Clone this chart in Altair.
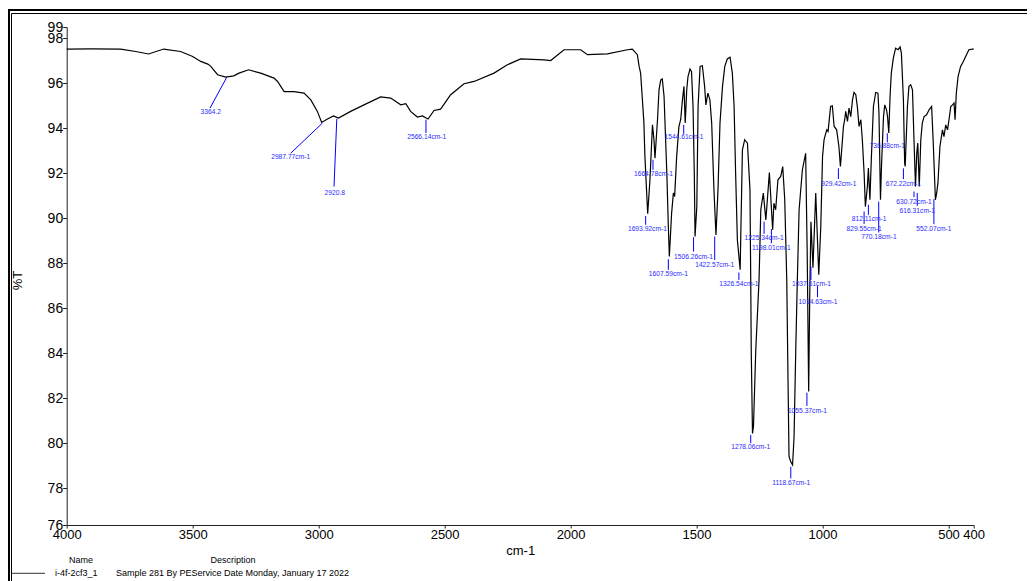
import altair as alt
import pandas as pd

# ---------------- spectrum (wavenumber cm-1, %T) ----------------
WN = [4000, 3905, 3786, 3726, 3675, 3615, 3548, 3500, 3468, 3440, 3428, 3401, 3369, 3337,
      3316, 3278, 3230, 3177, 3163, 3137, 3098, 3058, 3031, 3005, 2988, 2965, 2941, 2921,
      2873, 2820, 2754, 2714, 2674, 2654, 2635, 2608, 2588, 2566, 2542, 2516, 2476, 2423,
      2383, 2304, 2251, 2198, 2105, 2079, 2026, 1960, 1933, 1854, 1774, 1755, 1735, 1728,
      1722, 1715, 1709, 1705, 1694, 1685, 1675, 1669, 1665, 1655, 1649, 1642, 1636, 1629,
      1618, 1612, 1608, 1599, 1592, 1587, 1579, 1570, 1563, 1556, 1550, 1545, 1539, 1534,
      1526, 1520, 1514, 1509, 1506, 1499, 1494, 1486, 1477, 1468, 1463, 1455, 1447, 1440,
      1431, 1423, 1415, 1407, 1397, 1388, 1378, 1367, 1358, 1351, 1345, 1338, 1327, 1318,
      1309, 1298, 1288, 1285, 1283, 1278, 1274, 1265, 1252, 1245, 1235, 1225, 1211, 1198,
      1193, 1186, 1177, 1166, 1158, 1150, 1142, 1137, 1133, 1126, 1119, 1113, 1106, 1100,
      1093, 1080, 1067, 1061, 1055, 1051, 1046, 1038, 1027, 1015, 1007, 1000, 994, 987,
      983, 978, 968, 961, 954, 944, 935, 929, 924, 917, 912, 908, 901, 895,
      888, 881, 875, 868, 862, 855, 848, 842, 835, 830, 822, 818, 812, 806,
      798, 789, 780, 776, 770, 766, 758, 753, 746, 742, 737, 732, 727, 719,
      710, 700, 692, 687, 679, 674, 672, 663, 657, 650, 643, 637, 631, 626,
      622, 616, 610, 604, 597, 587, 577, 567, 561, 552, 547, 542, 534, 524,
      518, 511, 504, 498, 491, 484, 478, 474, 469, 462, 452, 441, 432, 419,
      405, 400]
PCT_T = [97.52, 97.53, 97.52, 97.41, 97.30, 97.52, 97.41, 97.19, 96.97, 96.85, 96.75, 96.38, 96.27, 96.33,
         96.45, 96.60, 96.45, 96.23, 96.08, 95.63, 95.63, 95.56, 95.26, 94.75, 94.26, 94.41, 94.55, 94.45,
         94.75, 95.04, 95.39, 95.34, 95.04, 95.09, 94.75, 94.50, 94.55, 94.41, 94.79, 94.85, 95.49, 95.98,
         96.08, 96.45, 96.82, 97.08, 97.04, 97.01, 97.49, 97.49, 97.27, 97.31, 97.49, 97.52, 97.27, 96.75,
         96.45, 95.27, 94.24, 92.74, 90.20, 91.71, 94.15, 93.49, 92.67, 94.38, 95.71, 96.15, 96.19, 95.41,
         92.01, 89.63, 88.30, 90.23, 91.12, 90.97, 92.74, 94.08, 94.38, 95.27, 95.86, 94.23, 95.71, 96.30,
         96.63, 96.52, 94.97, 92.01, 89.19, 90.52, 94.97, 96.75, 96.78, 95.86, 95.04, 95.56, 95.26, 94.23,
         91.26, 89.26, 91.26, 94.23, 95.86, 96.75, 97.08, 97.16, 96.45, 94.97, 92.01, 89.04, 87.71, 93.04,
         93.49, 93.34, 91.26, 87.26, 84.15, 80.44, 80.77, 84.15, 87.26, 90.38, 91.12, 89.93, 92.03, 89.49,
         90.67, 90.38, 91.71, 91.86, 92.30, 90.82, 87.26, 82.82, 79.41, 79.18, 79.04, 80.29, 84.30, 87.26,
         90.38, 92.15, 92.89, 88.60, 82.30, 86.37, 89.84, 87.80, 91.12, 87.49, 89.63, 92.74, 93.49, 93.78,
         93.93, 93.86, 94.97, 95.00, 94.08, 93.93, 93.19, 92.30, 93.04, 94.08, 94.38, 94.75, 94.30, 94.90,
         94.52, 95.27, 95.59, 95.49, 94.97, 94.08, 94.38, 93.49, 92.01, 90.52, 91.41, 92.23, 90.82, 92.74,
         94.97, 95.59, 95.56, 94.67, 90.82, 92.30, 94.52, 95.04, 94.82, 94.52, 93.79, 95.41, 96.45, 97.12,
         97.56, 97.49, 97.61, 97.34, 95.27, 92.45, 92.30, 94.97, 95.86, 95.93, 95.71, 93.49, 91.41, 92.89,
         93.34, 91.41, 93.49, 94.23, 94.52, 94.60, 94.82, 94.97, 93.49, 90.82, 91.12, 91.56, 93.19, 93.93,
         93.63, 94.15, 93.93, 94.38, 94.97, 95.04, 95.12, 94.38, 95.56, 96.30, 96.75, 96.97, 97.19, 97.49,
         97.52, 97.52]

# ---------------- peak annotations ----------------
PEAK_TEXT = ["3364.2", "2987.77cm-1", "2920.8", "2566.14cm-1", "1693.92cm-1", "1664.78cm-1",
             "1544.61cm-1", "1607.59cm-1", "1506.26cm-1", "1422.57cm-1", "1326.54cm-1",
             "1225.34cm-1", "1198.01cm-1", "1037.61cm-1", "1014.63cm-1", "1278.06cm-1",
             "1118.67cm-1", "1055.37cm-1", "929.42cm-1", "812.11cm-1", "829.55cm-1",
             "770.18cm-1", "736.88cm-1", "672.22cm-1", "630.72cm-1", "616.31cm-1", "552.07cm-1"]
LINE_WN1 = [3365, 2985, 2928, 2574, 1702, 1673, 1551, 1612, 1512, 1428, 1332, 1232, 1203, 1046,
            1020, 1285, 1126, 1062, 937, 818, 835, 777, 743, 679, 637, 624, 558]
LINE_T1 = [96.26, 94.23, 94.42, 94.38, 90.10, 92.60, 94.15, 88.18, 89.16, 89.19, 87.59, 89.85,
           89.52, 87.85, 86.99, 80.37, 78.96, 82.25, 92.22, 90.60, 90.30, 90.74, 93.78, 92.22,
           91.19, 91.12, 90.85]
LINE_WN2 = [3431, 3111, 2939, 2574, 1702, 1673, 1551, 1612, 1512, 1428, 1332, 1232, 1203, 1046,
            1020, 1285, 1126, 1062, 937, 818, 835, 777, 743, 679, 637, 624, 558]
LINE_T2 = [94.90, 92.89, 91.41, 93.79, 89.71, 92.15, 93.75, 87.71, 88.52, 88.15, 87.26, 89.31,
           88.89, 87.26, 86.49, 80.00, 78.44, 81.66, 91.74, 90.15, 89.75, 89.37, 93.37, 91.74,
           90.94, 90.55, 89.74]
TEXT_WN = [3428, 3111, 2936, 2571, 1695, 1671, 1550, 1612, 1512, 1428, 1332, 1232, 1203, 1044,
           1018, 1285, 1124, 1060, 935, 815, 835, 776, 743, 679, 637, 624, 558]
TEXT_T = [94.72, 92.72, 91.14, 93.59, 89.53, 91.96, 93.59, 87.52, 88.30, 87.92, 87.08, 89.12,
          88.70, 87.08, 86.30, 79.82, 78.22, 81.45, 91.53, 89.96, 89.54, 89.16, 93.19, 91.53,
          90.74, 90.34, 89.54]

X_TICKS = [4000, 3500, 3000, 2500, 2000, 1500, 1000, 500, 400]
Y_MIN, Y_MAX = 76.37, 98.5
Y_TICKS = [Y_MIN, 78, 80, 82, 84, 86, 88, 90, 92, 94, 96, 98, Y_MAX]

spec = pd.DataFrame({"wn": WN, "T": PCT_T})
peaks = pd.DataFrame({"label": PEAK_TEXT, "wn": LINE_WN1, "T": LINE_T1,
                      "wn2": LINE_WN2, "T2": LINE_T2, "twn": TEXT_WN, "tT": TEXT_T})
dummy = pd.DataFrame({"k": [0]})

xscale = alt.Scale(domain=[400, 4000], reverse=True, nice=False, zero=False)
yscale = alt.Scale(domain=[Y_MIN, Y_MAX], nice=False, zero=False)

xaxis = alt.Axis(values=X_TICKS, format="d", title="cm-1", grid=False, labelFlush=False,
                 labelOverlap=False, tickSize=3, labelPadding=0, labelFontSize=13,
                 titleFontSize=13, titleFontWeight="normal", titleY=25, titleBaseline="middle",
                 domainColor="#222", tickColor="#222", labelColor="#000", titleColor="#000")
yaxis = alt.Axis(values=Y_TICKS, title="%T", grid=False, labelOverlap=False, tickSize=4,
                 labelPadding=0, labelFontSize=14,
                 labelExpr="datum.value < 77 ? '76' : (datum.value > 98.2 ? '99' : format(datum.value, 'd'))",
                 titleFontSize=13, titleFontWeight="normal", titleAngle=270, titleX=-48.7,
                 titleY=253, titleBaseline="middle", titleAlign="center",
                 domainColor="#222", tickColor="#222", labelColor="#000", titleColor="#000")

line = alt.Chart(spec).mark_line(color="black", strokeWidth=1.2).encode(
    x=alt.X("wn:Q", scale=xscale, axis=xaxis),
    y=alt.Y("T:Q", scale=yscale, axis=yaxis),
)

ticks = alt.Chart(peaks).mark_rule(color="#0000ff", strokeWidth=1).encode(
    x=alt.X("wn:Q", scale=xscale, axis=xaxis),
    y=alt.Y("T:Q", scale=yscale, axis=yaxis),
    x2="wn2:Q", y2="T2:Q",
)

labels = alt.Chart(peaks).mark_text(color="#2a2aff", fontSize=6.7, align="center",
                                    baseline="middle").encode(
    x=alt.X("twn:Q", scale=xscale, axis=xaxis),
    y=alt.Y("tT:Q", scale=yscale, axis=yaxis),
    text="label:N",
)

# ---------------- decoration: double frame and footer legend ----------------
frame = [
    alt.Chart(dummy).mark_rule(color="black", strokeWidth=2).encode(
        x=alt.value(-57.7), y=alt.value(-18), y2=alt.value(560)),
    alt.Chart(dummy).mark_rule(color="black", strokeWidth=1).encode(
        x=alt.value(-55.2), y=alt.value(-13.5), y2=alt.value(560)),
    alt.Chart(dummy).mark_rule(color="black", strokeWidth=2).encode(
        y=alt.value(-17), x=alt.value(-58.7), x2=alt.value(962)),
    alt.Chart(dummy).mark_rule(color="black", strokeWidth=1).encode(
        y=alt.value(-13.5), x=alt.value(-55.2), x2=alt.value(962)),
    alt.Chart(dummy).mark_rule(color="#333", strokeWidth=1).encode(
        y=alt.value(546.3), x=alt.value(-54.7), x2=alt.value(-21.7)),
]
footer = [
    alt.Chart(dummy).mark_text(fontSize=9, align="center", baseline="middle", color="black").encode(
        x=alt.value(14.3), y=alt.value(533), text=alt.value("Name")),
    alt.Chart(dummy).mark_text(fontSize=9, align="center", baseline="middle", color="black").encode(
        x=alt.value(166.3), y=alt.value(533), text=alt.value("Description")),
    alt.Chart(dummy).mark_text(fontSize=9, align="left", baseline="middle", color="black").encode(
        x=alt.value(-11.7), y=alt.value(546.3), text=alt.value("i-4f-2cf3_1")),
    alt.Chart(dummy).mark_text(fontSize=9, align="left", baseline="middle", color="black").encode(
        x=alt.value(49.3), y=alt.value(546.3),
        text=alt.value("Sample 281 By PEService Date Monday, January 17 2022")),
]

chart = alt.layer(line, ticks, labels, *frame, *footer).properties(
    width=907, height=498,
    padding={"left": 58.7, "top": 19, "right": 53.3, "bottom": 56},
    autosize=alt.AutoSizeParams(type="none"),
).configure(font="Liberation Sans").configure_view(strokeWidth=0)

chart.save("out.html", embed_options={"renderer": "svg", "actions": False})
